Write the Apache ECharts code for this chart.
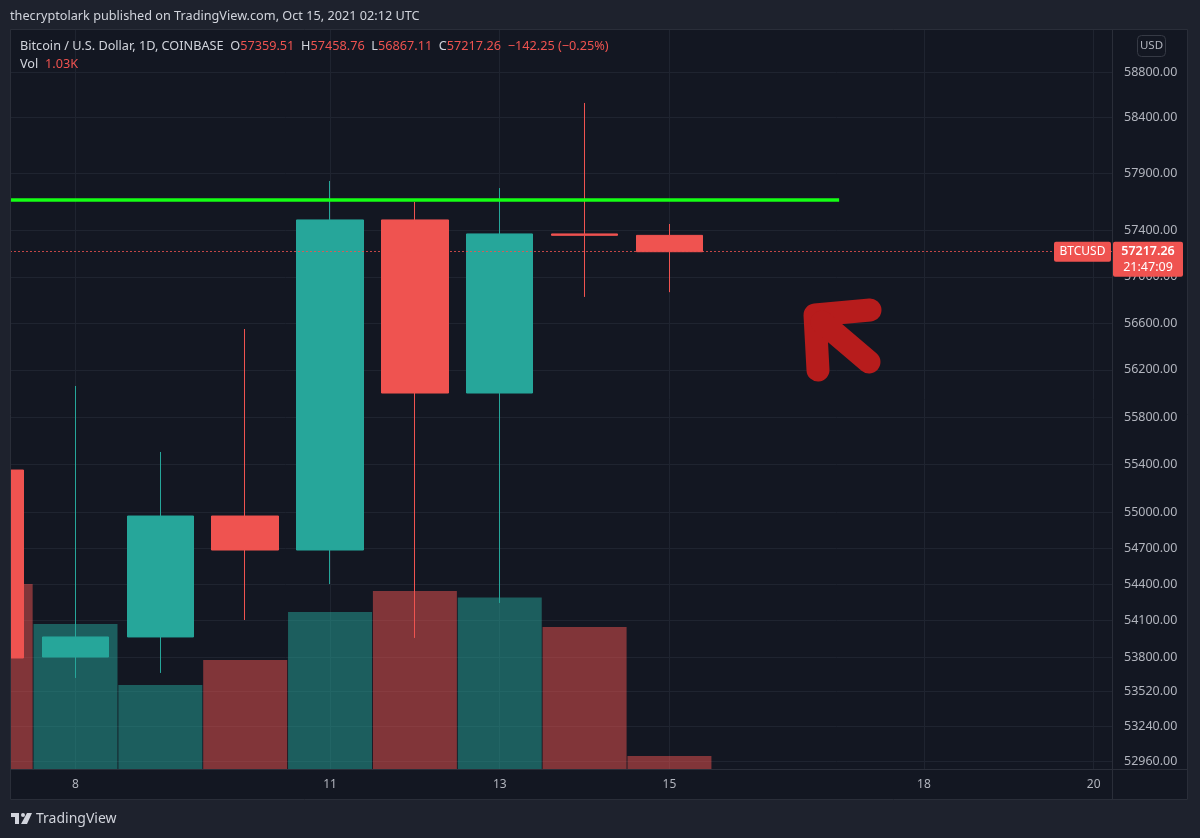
<!DOCTYPE html>
<html><head><meta charset="utf-8">
<script src="https://cdn.jsdelivr.net/npm/echarts@6/dist/echarts.min.js"></script>
<style>html,body{margin:0;padding:0;background:#1e222d}#c{width:1200px;height:838px}</style>
</head><body><div id="c"></div>
<script>
// ---- data ----
const days    = [7, 8, 9, 10, 11, 12, 13, 14, 15];
const opens   = [55352, 53803, 53967, 54967, 54684, 57494, 56003, 57372, 57359.51];
const closes  = [53795, 53967, 54967, 54684, 57494, 56003, 57372, 57360, 57217.26];
const lows    = [53400, 53632, 53673, 54106, 54402, 53959, 54246, 56826, 56867.11];
const highs   = [55400, 56063, 55504, 56550, 57835, 57651, 57773, 58524, 57458.76];
const volumes = [14670, 11500, 6660, 8640, 12450, 14120, 13600, 11260, 1030];
const priceTicks = [52960, 53240, 53520, 53800, 54100, 54400, 54700, 55000, 55400, 55800, 56200, 56600, 57000, 57400, 57900, 58400, 58800];
const dayTicks = [8, 11, 13, 15, 18, 20];
const levelPrice = 57670, levelEndDay = 17;
const countdown = '21:47:09';

const UP = '#26a69a', DN = '#ef5350';
const X_MIN = 7.228, X_MAX = 20.216, Y_MIN = 52896, Y_MAX = 59176, VOL_MAX = 58600;
const TXT = '#d1d4dc', AX = '#b2b5be', GRID = '#1f2430', BORDER = '#2a2e39';
const FONT = '"Noto Sans", "Open Sans", sans-serif';

const chart = echarts.init(document.getElementById('c'), null, {renderer: 'canvas'});

const candleData = days.map((d, i) => [d, opens[i], closes[i], lows[i], highs[i]]);
const volData = days.map((d, i) => ({
  value: [d, volumes[i]],
  itemStyle: {color: closes[i] >= opens[i] ? 'rgba(38,166,154,0.5)' : 'rgba(239,83,80,0.5)'}
}));

const option = {
  backgroundColor: '#131722',
  animation: false,
  grid: {left: 10, right: 88, top: 30, bottom: 69, containLabel: false},
  xAxis: {
    type: 'value', min: X_MIN, max: X_MAX,
    axisLine: {show: true, lineStyle: {color: BORDER}},
    axisTick: {show: false, customValues: dayTicks},
    axisLabel: {customValues: dayTicks, color: AX, fontSize: 12, fontFamily: FONT, margin: 10},
    splitLine: {show: true, lineStyle: {color: GRID, width: 1}}
  },
  yAxis: [
    {
      type: 'log', logBase: 10, position: 'right', min: Y_MIN, max: Y_MAX,
      axisLine: {show: false}, axisTick: {show: false, customValues: priceTicks},
      axisLabel: {customValues: priceTicks, color: AX, fontSize: 12.5, fontFamily: FONT, margin: 12, align: 'left',
        formatter: v => Number(v).toFixed(2)},
      splitLine: {show: true, lineStyle: {color: GRID, width: 1}}
    },
    {type: 'value', min: 0, max: VOL_MAX, show: false, splitLine: {show: false}}
  ],
  series: [
    {
      type: 'bar', name: 'Vol', xAxisIndex: 0, yAxisIndex: 1, data: volData,
      barWidth: 84, z: 1
    },
    {
      type: 'candlestick', name: 'BTCUSD', xAxisIndex: 0, yAxisIndex: 0,
      dimensions: ['day', 'open', 'close', 'low', 'high'],
      encode: {x: 0, y: [1, 2, 3, 4]},
      data: candleData, barWidth: 67, z: 3,
      itemStyle: {color: UP, color0: DN, borderColor: UP, borderColor0: DN, borderWidth: 1},
      markLine: {
        silent: true, symbol: 'none', animation: false,
        label: {show: false},
        data: [
          {yAxis: closes[closes.length - 1], lineStyle: {color: DN, type: [2, 2], width: 1, opacity: 0.8}},
          [{coord: [X_MIN, levelPrice], lineStyle: {color: '#14ff14', width: 3.5, type: 'solid', opacity: 1}},
           {coord: [levelEndDay, levelPrice]}]
        ]
      }
    }
  ]
};
chart.setOption(option);

// ---- header / decoration ----
const n = days.length - 1;
const o = opens[n], h = highs[n], l = lows[n], c = closes[n];
const chg = c - o, pct = chg / o * 100;
const minus = v => (v < 0 ? '\u2212' : '+') + Math.abs(v).toFixed(2);
const volTxt = (volumes[n] / 1000).toFixed(2) + 'K';

const yP = chart.convertToPixel({yAxisIndex: 0}, c);

const graphics = [
  // outer strips
  {type: 'rect', shape: {x: 0, y: 0, width: 1200, height: 30}, style: {fill: '#1e222d'}, z: 50, silent: true},
  {type: 'rect', shape: {x: 0, y: 800, width: 1200, height: 38}, style: {fill: '#1e222d'}, z: 50, silent: true},
  {type: 'rect', shape: {x: 0, y: 0, width: 10, height: 838}, style: {fill: '#1e222d'}, z: 50, silent: true},
  {type: 'rect', shape: {x: 1188, y: 0, width: 12, height: 838}, style: {fill: '#1e222d'}, z: 50, silent: true},
  // panel borders
  {type: 'rect', shape: {x: 10.5, y: 29.5, width: 1177, height: 770}, style: {fill: 'none', stroke: BORDER, lineWidth: 1}, z: 51, silent: true},
  {type: 'line', shape: {x1: 1112.5, y1: 30, x2: 1112.5, y2: 800}, style: {stroke: BORDER, lineWidth: 1}, z: 51, silent: true},
  {type: 'line', shape: {x1: 10, y1: 769.5, x2: 1188, y2: 769.5}, style: {stroke: BORDER, lineWidth: 1}, z: 51, silent: true},
  // publisher line
  {type: 'text', x: 10, y: 16, z: 52, style: {text: 'thecryptolark published on TradingView.com, Oct 15, 2021 02:12 UTC',
    fill: TXT, font: '12.7px ' + FONT, verticalAlign: 'middle'}},
  // legend header
  {type: 'text', x: 20, y: 46, z: 52, style: {
    text: '{t|Bitcoin / U.S. Dollar, 1D, COINBASE}  {t|O}{r|' + o.toFixed(2) + '}  {t|H}{r|' + h.toFixed(2) + '}  {t|L}{r|' + l.toFixed(2) + '}  {t|C}{r|' + c.toFixed(2) + '}  {r|' + minus(chg) + ' (' + minus(pct) + '%)}',
    verticalAlign: 'middle',
    rich: {t: {fill: TXT, font: '12.7px ' + FONT}, r: {fill: DN, font: '12.7px ' + FONT}}
  }},
  {type: 'text', x: 20, y: 64, z: 52, style: {
    text: '{t|Vol}  {r|' + volTxt + '}', verticalAlign: 'middle',
    rich: {t: {fill: TXT, font: '12.7px ' + FONT}, r: {fill: DN, font: '12.7px ' + FONT}}
  }},
  // USD box
  {type: 'rect', shape: {x: 1137.5, y: 35.5, width: 28, height: 21, r: 4}, style: {fill: '#131722', stroke: '#363a45', lineWidth: 1}, z: 52},
  {type: 'text', x: 1151.5, y: 46, z: 53, style: {text: 'USD', fill: AX, font: '11.5px ' + FONT, align: 'center', verticalAlign: 'middle'}},
  // price tags
  {type: 'rect', shape: {x: 1054, y: yP - 10, width: 57, height: 20, r: 2}, style: {fill: DN}, z: 52},
  {type: 'text', x: 1082.5, y: yP, z: 53, style: {text: 'BTCUSD', fill: '#ffffff', font: '12px ' + FONT, align: 'center', verticalAlign: 'middle'}},
  {type: 'rect', shape: {x: 1113, y: yP - 10, width: 70, height: 35, r: 2}, style: {fill: DN}, z: 52},
  {type: 'text', x: 1148, y: yP, z: 53, style: {text: c.toFixed(2), fill: '#ffffff', font: '600 12.5px ' + FONT, align: 'center', verticalAlign: 'middle'}},
  {type: 'text', x: 1148, y: yP + 16, z: 53, style: {text: countdown, fill: '#ffffff', font: '12.5px ' + FONT, align: 'center', verticalAlign: 'middle'}},
  // red arrow drawing
  {type: 'polyline', z: 40, shape: {points: [[870, 310], [815, 315], [818, 370]]},
    style: {stroke: '#b71c1c', lineWidth: 23, lineCap: 'round', lineJoin: 'round', fill: 'none'}},
  {type: 'line', z: 40, shape: {x1: 822, y1: 322, x2: 869, y2: 362},
    style: {stroke: '#b71c1c', lineWidth: 23, lineCap: 'round'}},
  // TradingView footer logo
  {type: 'rect', z: 52, shape: {x: 11, y: 813, width: 8, height: 4}, style: {fill: TXT}},
  {type: 'rect', z: 52, shape: {x: 15, y: 813, width: 4, height: 11}, style: {fill: TXT}},
  {type: 'circle', z: 52, shape: {cx: 23, cy: 815, r: 2}, style: {fill: TXT}},
  {type: 'polygon', z: 52, shape: {points: [[27, 813], [32, 813], [27, 824], [21, 824]]}, style: {fill: TXT}},
  {type: 'text', x: 36, y: 819, z: 52, style: {text: 'TradingView', fill: TXT, font: '14px ' + FONT, verticalAlign: 'middle'}}
];
chart.setOption({graphic: {elements: graphics}});
</script>
</body></html>
